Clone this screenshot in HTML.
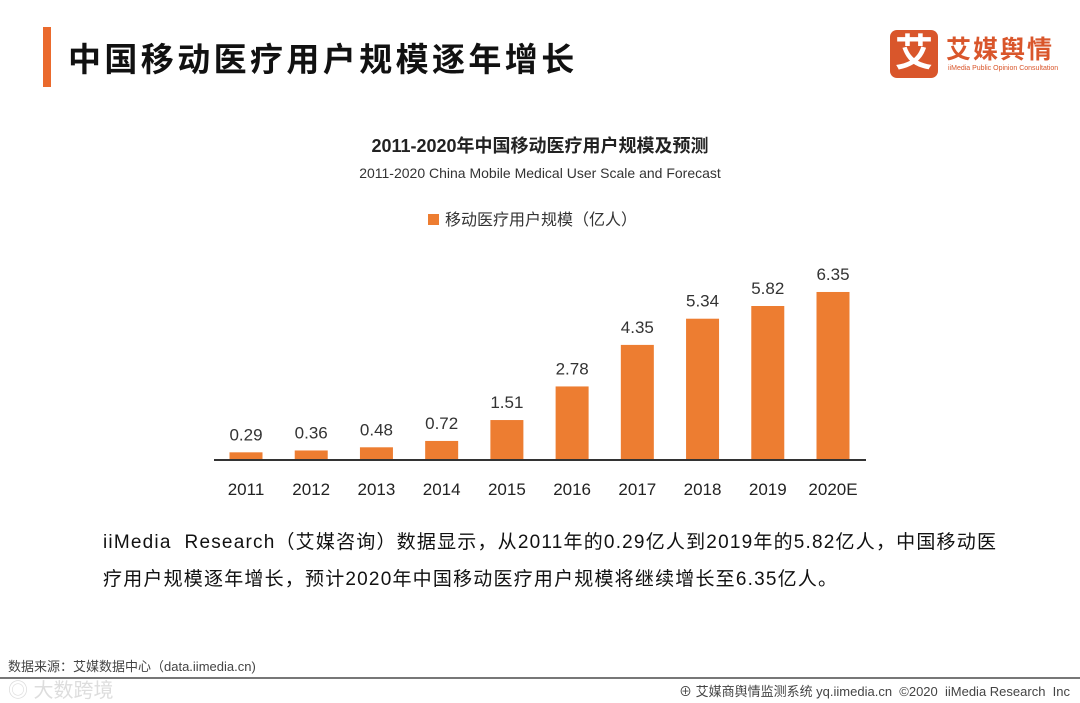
<!DOCTYPE html>
<html><head><meta charset="utf-8">
<style>
body{margin:0;width:1080px;height:702px;background:#fff;overflow:hidden;position:relative;font-family:"Liberation Sans","Noto Sans CJK SC",sans-serif;color:#222}
.abs{position:absolute}
</style></head><body>
<div class="abs" style="left:43px;top:27px;width:8px;height:60px;background:#ea6a2d"></div>
<div class="abs" style="left:68px;top:33px;font-size:33px;font-weight:bold;color:#111;letter-spacing:3.4px;white-space:nowrap">中国移动医疗用户规模逐年增长</div>
<div class="abs" style="left:890px;top:30px;width:180px;height:50px">
 <div style="position:absolute;left:0;top:0;width:48px;height:48px;border-radius:7px;background:#d9562b;color:#fff;font-size:38px;font-weight:bold;text-align:center;line-height:48px">艾</div>
 <div style="position:absolute;left:56px;top:0;font-size:25px;font-weight:bold;color:#d9562b;letter-spacing:2px">艾媒舆情</div>
 <div style="position:absolute;left:58px;top:35px;font-size:7px;color:#d9562b;white-space:nowrap">iiMedia Public Opinion Consultation</div>
</div>
<div class="abs" style="left:0;width:1080px;top:132px;text-align:center;font-size:18px;font-weight:bold">2011-2020年中国移动医疗用户规模及预测</div>
<div class="abs" style="left:0;width:1080px;top:165px;text-align:center;font-size:14px;color:#333">2011-2020 China Mobile Medical User Scale and Forecast</div>
<div class="abs" style="left:428px;top:206px;font-size:16px;color:#333"><span style="display:inline-block;width:11px;height:11px;background:#ed7d31;margin-right:6px"></span>移动医疗用户规模（亿人）</div>
<svg class="abs" style="left:0;top:0" width="1080" height="702">
<g id="bars"></g>
<line x1="214" x2="866" y1="460" y2="460" stroke="#333" stroke-width="2"/>
</svg>
<div class="abs" style="left:103px;top:524px;width:950px;font-size:19px;line-height:37px;color:#111;white-space:nowrap;letter-spacing:1.2px">iiMedia&nbsp; Research（艾媒咨询）数据显示，从2011年的0.29亿人到2019年的5.82亿人，中国移动医<br>疗用户规模逐年增长，预计2020年中国移动医疗用户规模将继续增长至6.35亿人。</div>
<div class="abs" style="left:8px;top:656px;font-size:13px;color:#444">数据来源：艾媒数据中心（data.iimedia.cn)</div>
<div class="abs" style="left:0;top:677px;width:1080px;height:2px;background:#777"></div>
<div class="abs" style="left:8px;top:674px;font-size:20px;color:#ddd">◎ 大数跨境</div>
<div class="abs" style="right:10px;top:681px;font-size:13px;color:#444;white-space:nowrap">⊕ 艾媒商舆情监测系统 yq.iimedia.cn&nbsp; ©2020&nbsp; iiMedia Research&nbsp; Inc</div>
<script>
const categories=["2011","2012","2013","2014","2015","2016","2017","2018","2019","2020E"];
const values=[0.29,0.36,0.48,0.72,1.51,2.78,4.35,5.34,5.82,6.35];
const labels=["0.29","0.36","0.48","0.72","1.51","2.78","4.35","5.34","5.82","6.35"];
const NS="http://www.w3.org/2000/svg";
const g=document.getElementById("bars");
function xPos(i){return 246+i*(833-246)/(categories.length-1);}
function yPos(v){return 460-v*26.46;}
categories.forEach((c,i)=>{
 const x=xPos(i),y=yPos(values[i]);
 const r=document.createElementNS(NS,"rect");
 r.setAttribute("x",x-16.5);r.setAttribute("y",y);r.setAttribute("width",33);r.setAttribute("height",460-y);r.setAttribute("fill","#ed7d31");
 
 
 g.appendChild(r);
 const t=document.createElementNS(NS,"text");
 t.setAttribute("x",x);t.setAttribute("y",y-12);t.setAttribute("text-anchor","middle");t.setAttribute("font-size","17");t.setAttribute("fill","#333");
 t.textContent=labels[i];
 
 
 g.appendChild(t);
 const l=document.createElementNS(NS,"text");
 l.setAttribute("x",x);l.setAttribute("y",495);l.setAttribute("text-anchor","middle");l.setAttribute("font-size","17");l.setAttribute("fill","#222");
 l.textContent=c;
 
 
 g.appendChild(l);
});
</script>
</body></html>
